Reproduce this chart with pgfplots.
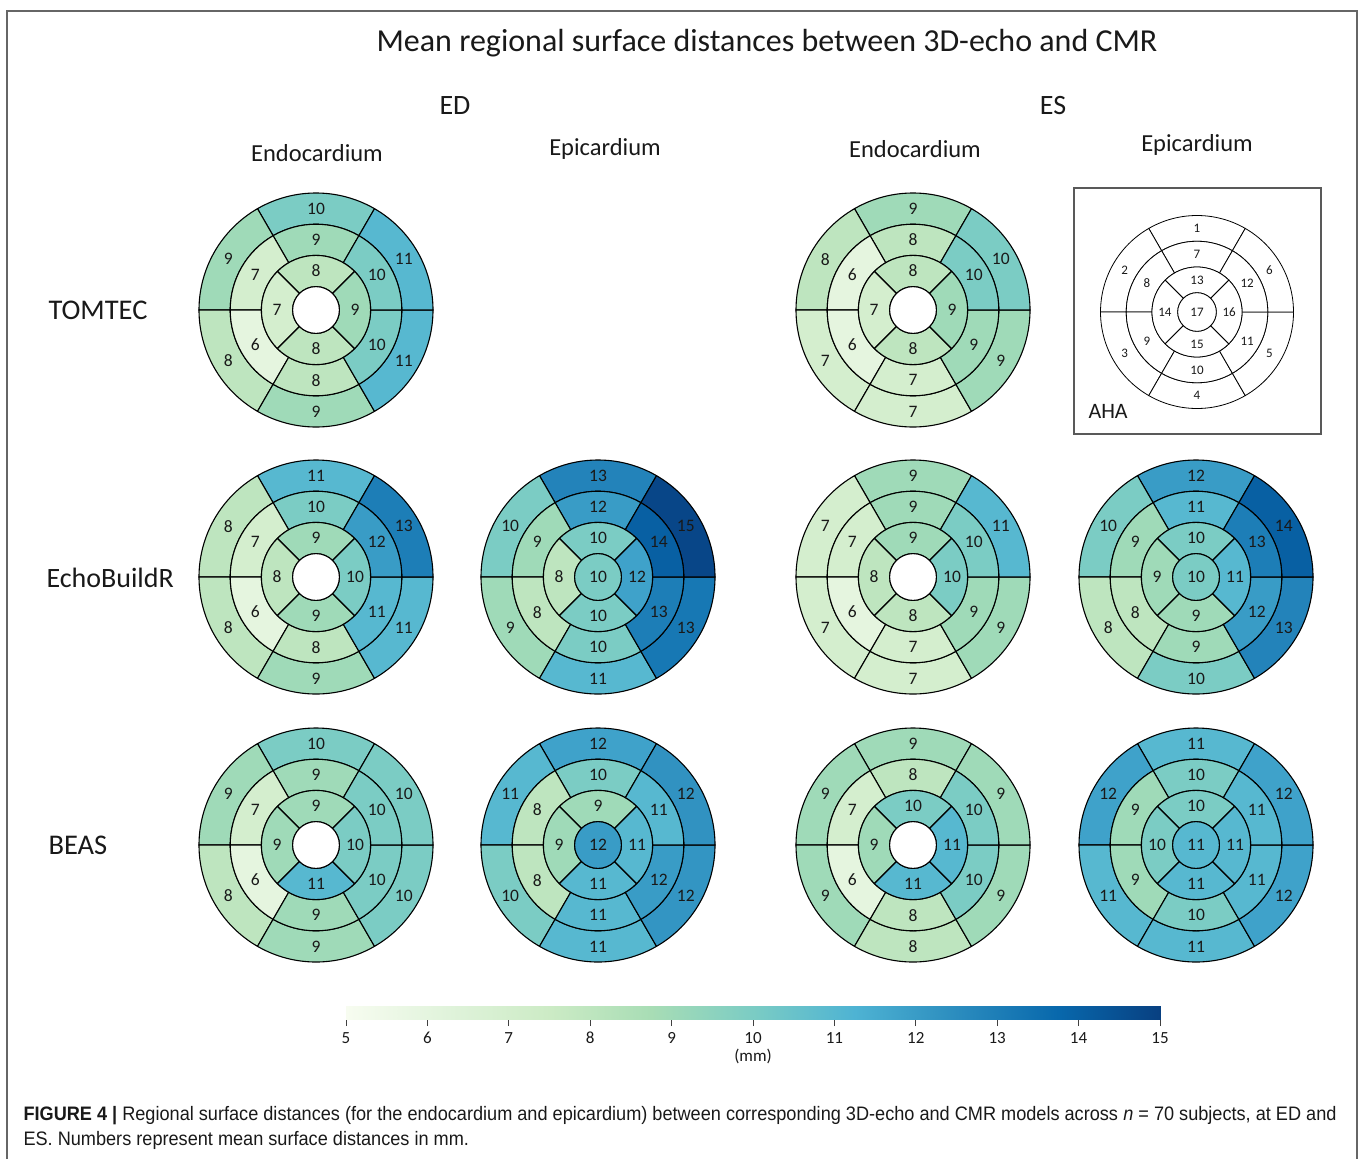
\documentclass[border=0pt]{standalone}
\usepackage{pgfplots}
\pgfplotsset{compat=1.18}
\usepackage{pgfplotstable}
\usepackage{fontspec}
\setmainfont{Carlito}
\newfontfamily\capfont[FakeStretch=0.93]{Liberation Sans}

\definecolor{g0}{RGB}{247,252,240}
\definecolor{g1}{RGB}{224,243,219}
\definecolor{g2}{RGB}{204,235,197}
\definecolor{g3}{RGB}{168,221,181}
\definecolor{g4}{RGB}{123,204,196}
\definecolor{g5}{RGB}{78,179,211}
\definecolor{g6}{RGB}{43,140,190}
\definecolor{g7}{RGB}{8,104,172}
\definecolor{g8}{RGB}{8,64,129}

\pgfplotsset{colormap={GnBu}{rgb255=(247,252,240) rgb255=(224,243,219) rgb255=(204,235,197) rgb255=(168,221,181) rgb255=(123,204,196) rgb255=(78,179,211) rgb255=(43,140,190) rgb255=(8,104,172) rgb255=(8,64,129)}}

% segment values (mm); rows = AHA segments 1..17
\pgfplotstableread{
seg EDendo EDepi ESendo ESepi
1 10 nan 9 nan
2 9 nan 8 nan
3 8 nan 7 nan
4 9 nan 7 nan
5 11 nan 9 nan
6 11 nan 10 nan
7 9 nan 8 nan
8 7 nan 6 nan
9 6 nan 6 nan
10 8 nan 7 nan
11 10 nan 9 nan
12 10 nan 10 nan
13 8 nan 8 nan
14 7 nan 7 nan
15 8 nan 8 nan
16 9 nan 9 nan
17 nan nan nan nan
}\tomtec

\pgfplotstableread{
seg EDendo EDepi ESendo ESepi
1 11 12.8 9 12
2 8 10 7 10
3 8 9 7 8
4 9 11 7 10
5 11 13.2 9 12.8
6 13 14.8 11 14
7 10 12 9 11
8 7 9 7 9
9 6 8 6 8
10 8 10 7 9
11 11 13 9 12
12 12 14 10 13
13 9 10 9 10
14 8 8 8 9
15 9 10 8 9
16 10 11.8 10 11
17 nan 10 nan 10
}\echob

\pgfplotstableread{
seg EDendo EDepi ESendo ESepi
1 10 11.8 9 11
2 9 11 9 11.8
3 8 10 9 11
4 9 11 8 11
5 10 12.2 9 11.8
6 10 12.3 9 11.8
7 9 10 8 10
8 7 8 7 9
9 6 8 6 9
10 9 11 8 10
11 10 12 10 11
12 10 11 10 11
13 9 9 10 10
14 9 9 9 10
15 11 11 11 11
16 10 11 11 11
17 nan 12 nan 11
}\beas

\def\nanstr{nan}
\newcommand\segfont{\fontsize{17.5}{20}\selectfont}
\newcommand\ahafont{\fontsize{13}{15}\selectfont}
\def\segw{1.1pt}

\newcommand\valcolor[1]{%
  \pgfmathsetmacro\uu{max(0,min(7.999,(#1-5)*0.8))}%
  \pgfmathtruncatemacro\kk{floor(\uu)}%
  \pgfmathtruncatemacro\kj{\kk+1}%
  \pgfmathsetmacro\pp{100*(1-(\uu-\kk))}%
  \edef\vcol{g\kk!\pp!g\kj}%
}

\newcommand\drawseg[7]{%
  \ifnum#4<6\relax
    \pgfmathsetmacro\rIn{0.7333*#3}\pgfmathsetmacro\rOut{#3}%
    \pgfmathtruncatemacro\angA{60+60*#4}%
    \pgfmathtruncatemacro\angB{\angA+60}%
  \else\ifnum#4<12\relax
    \pgfmathsetmacro\rIn{0.4667*#3}\pgfmathsetmacro\rOut{0.7333*#3}%
    \pgfmathtruncatemacro\angA{60+60*(#4-6)}%
    \pgfmathtruncatemacro\angB{\angA+60}%
  \else\ifnum#4<16\relax
    \pgfmathsetmacro\rIn{0.2*#3}\pgfmathsetmacro\rOut{0.4667*#3}%
    \pgfmathtruncatemacro\angA{45+90*(#4-12)}%
    \pgfmathtruncatemacro\angB{\angA+90}%
  \else
    \def\rIn{0}\pgfmathsetmacro\rOut{0.2*#3}\def\angA{0}\def\angB{360}%
  \fi\fi\fi
  \pgfmathsetmacro\dR{\rOut-\rIn}%
  \pgfmathsetmacro\angM{(\angA+\angB)/2}%
  \pgfmathsetmacro\rMid{(\rIn+\rOut)/2}%
  \ifnum#4=16\relax
    \def\rMid{0}%
    \edef\tmp{\noexpand\filldraw[fill={#5},draw=black,line width=\segw] (axis cs:#1,#2) circle[radius=\rOut pt];}%
  \else
    \edef\tmp{\noexpand\filldraw[fill={#5},draw=black,line width=\segw] (axis cs:#1,#2) ++(\angA:\rOut pt) arc[start angle=\angA,end angle=\angB,radius=\rOut pt] -- ++(\angB+180:\dR pt) arc[start angle=\angB,end angle=\angA,radius=\rIn pt] -- cycle;}%
  \fi
  \tmp
  \edef\tmp{\noexpand\path (axis cs:#1,#2) ++(\angM:\rMid pt) node[font=\noexpand#7,text=black!90,inner sep=0pt]{#6};}%
  \tmp
}

\newcommand\bullseye[4]{%
  \foreach \row in {0,...,16}{%
    \pgfplotstablegetelem{\row}{#2}\of#1%
    \edef\val{\pgfplotsretval}%
    \ifx\val\nanstr
      \drawseg{#3}{#4}{117}{\row}{white}{}{\segfont}%
    \else
      \valcolor{\val}%
      \pgfmathtruncatemacro\lab{round(\val)}%
      \drawseg{#3}{#4}{117}{\row}{\vcol}{\lab}{\segfont}%
    \fi
  }%
}

\newcommand\ahadiagram[3]{%
  \foreach \row in {0,...,16}{%
    \pgfmathtruncatemacro\lab{\row+1}%
    \drawseg{#1}{#2}{#3}{\row}{white}{\lab}{\ahafont}%
  }%
}

\begin{document}
\begin{tikzpicture}
\useasboundingbox (0,0) rectangle (1365pt,1159pt);
\begin{axis}[x=1pt,y=1pt,xmin=0,xmax=1365,ymin=0,ymax=1159,y dir=reverse,
  hide axis,clip=false,anchor=south west,at={(0,0)}]
\draw[black!60,line width=1.3pt] (axis cs:7,1159) -- (axis cs:7,11) -- (axis cs:1357,11) -- (axis cs:1357,1159);
\node[font=\fontsize{32}{38}\selectfont,text=black!90] at (axis cs:767,43) {Mean regional surface distances between 3D-echo and CMR};
\node[font=\fontsize{28}{32}\selectfont,text=black!90] at (axis cs:455,106) {ED};
\node[font=\fontsize{28}{32}\selectfont,text=black!90] at (axis cs:1053,106) {ES};
\node[font=\fontsize{24.5}{28}\selectfont,text=black!90] at (axis cs:317,153) {Endocardium};
\node[font=\fontsize{24.5}{28}\selectfont,text=black!90] at (axis cs:605,149) {Epicardium};
\node[font=\fontsize{24.5}{28}\selectfont,text=black!90] at (axis cs:915,149) {Endocardium};
\node[font=\fontsize{24.5}{28}\selectfont,text=black!90] at (axis cs:1197,145) {Epicardium};
\node[anchor=west,font=\fontsize{28.5}{32}\selectfont,text=black!90] at (axis cs:45,310) {TOMTEC};
\node[anchor=west,font=\fontsize{28}{32}\selectfont,text=black!90] at (axis cs:43,578) {EchoBuildR};
\node[anchor=west,font=\fontsize{28.5}{32}\selectfont,text=black!90] at (axis cs:45,845) {BEAS};
\def\segw{1.1pt}
\bullseye{\tomtec}{EDendo}{316}{310}
\bullseye{\tomtec}{ESendo}{913}{310}
\bullseye{\echob}{EDendo}{316}{577}
\bullseye{\echob}{EDepi}{598}{577}
\bullseye{\echob}{ESendo}{913}{577}
\bullseye{\echob}{ESepi}{1196}{577}
\bullseye{\beas}{EDendo}{316}{845}
\bullseye{\beas}{EDepi}{598}{845}
\bullseye{\beas}{ESendo}{913}{845}
\bullseye{\beas}{ESepi}{1196}{845}
\draw[black!65,line width=1.2pt] (axis cs:1074,188) rectangle (axis cs:1321,434);
\def\segw{0.8pt}
\ahadiagram{1197}{312}{96.5}
\node[anchor=west,font=\fontsize{22}{26}\selectfont,text=black!90] at (axis cs:1085,411) {AHA};
\node[anchor=base west,font=\capfont\fontsize{19.5}{22}\selectfont,text=black!90] at (axis cs:20,1120) {\textbf{FIGURE 4 |} Regional surface distances (for the endocardium and epicardium) between corresponding 3D-echo and CMR models across \textit{n} = 70 subjects, at ED and};
\node[anchor=base west,font=\capfont\fontsize{19.5}{22}\selectfont,text=black!90] at (axis cs:20,1145) {ES. Numbers represent mean surface distances in mm.};
\end{axis}
\begin{axis}[at={(346pt,139pt)},anchor=south west,scale only axis,width=814pt,height=14pt,
  xmin=5,xmax=15,ymin=0,ymax=1,enlargelimits=false,
  axis line style={draw=none},ytick=\empty,xtick={5,...,15},xtick pos=bottom,
  tick align=outside,major tick length=6pt,tick style={black!75,line width=0.8pt},
  typeset ticklabels with strut,
  ticklabel style={font=\fontsize{17}{20}\selectfont,text=black!90},
  /pgf/number format/assume math mode=true,
  xlabel={(mm)},xlabel style={font=\fontsize{17}{20}\selectfont,text=black!90,at={(axis description cs:0.5,-2.57)},anchor=center},
  colormap name=GnBu,point meta min=5,point meta max=15]
\addplot[patch,patch type=rectangle,shader=interp,point meta=x] coordinates {
(5,0) (6.25,0) (6.25,1) (5,1)
(6.25,0) (7.5,0) (7.5,1) (6.25,1)
(7.5,0) (8.75,0) (8.75,1) (7.5,1)
(8.75,0) (10,0) (10,1) (8.75,1)
(10,0) (11.25,0) (11.25,1) (10,1)
(11.25,0) (12.5,0) (12.5,1) (11.25,1)
(12.5,0) (13.75,0) (13.75,1) (12.5,1)
(13.75,0) (15,0) (15,1) (13.75,1)
};
\end{axis}
\end{tikzpicture}
\end{document}
